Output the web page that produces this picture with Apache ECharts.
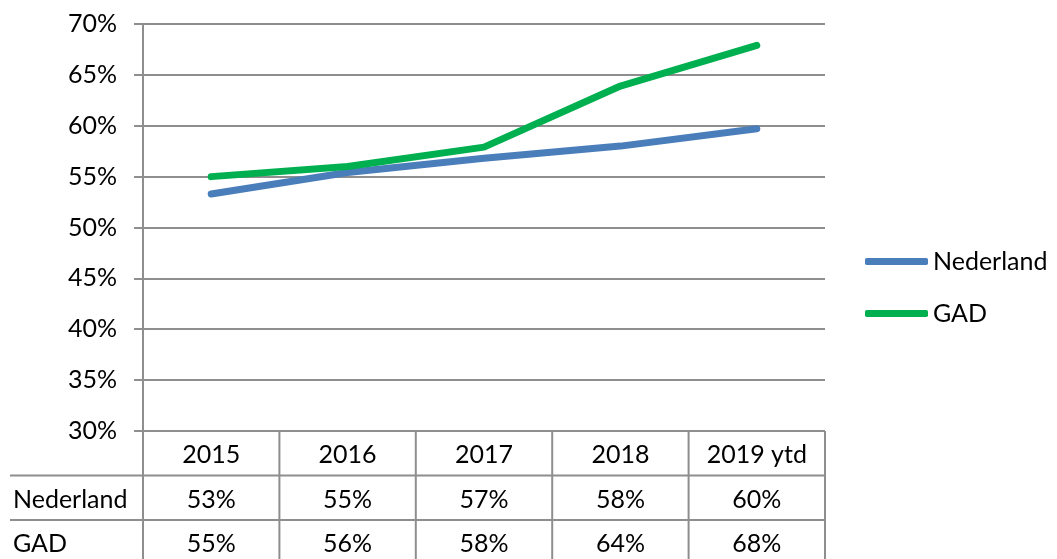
<!DOCTYPE html>
<html>
<head>
<meta charset="utf-8">
<script src="https://cdn.jsdelivr.net/npm/echarts@6/dist/echarts.min.js"></script>
<style>html,body{margin:0;padding:0;background:#fff}#c{width:1057px;height:559px}</style>
</head>
<body>
<div id="c"></div>
<script>
const categories = ['2015', '2016', '2017', '2018', '2019 ytd'];
const nederland = [0.533, 0.554, 0.568, 0.580, 0.597];
const gad = [0.550, 0.560, 0.579, 0.639, 0.679];
const seriesNames = ['Nederland', 'GAD'];
const colors = ['#4a7ebb', '#00b050'];

const FONT = 'Lato';
const FS = 25;
const GRID_COLOR = '#8e8e8e';
const pct = v => Math.round(v * 100) + '%';

const chart = echarts.init(document.getElementById('c'), null, {renderer: 'canvas'});
const option = {
  animation: false,
  backgroundColor: '#fff',
  textStyle: {fontFamily: FONT},
  grid: {left: 143, right: 232, top: 24, bottom: 128, containLabel: false},
  legend: {
    orient: 'vertical',
    left: 860,
    top: 244,
    itemWidth: 63,
    itemHeight: 7,
    itemGap: 27,
    icon: 'roundRect',
    textStyle: {fontFamily: FONT, fontSize: FS, color: '#000'},
    data: seriesNames
  },
  xAxis: {
    type: 'category',
    data: categories,
    boundaryGap: true,
    axisLine: {show: false},
    axisTick: {show: false},
    axisLabel: {show: false},
    splitLine: {show: false}
  },
  yAxis: {
    type: 'value',
    min: 0.30,
    max: 0.70,
    interval: 0.05,
    axisLine: {show: true, lineStyle: {color: GRID_COLOR, width: 2}},
    axisTick: {show: true, length: 9, lineStyle: {color: GRID_COLOR, width: 2}},
    axisLabel: {
      margin: 26,
      fontFamily: FONT, fontSize: FS, color: '#000',
      padding: [6, 0, 0, 0],
      formatter: v => Math.round(v * 100) + '%'
    },
    splitLine: {show: true, lineStyle: {color: GRID_COLOR, width: 2}}
  },
  series: [
    {name: seriesNames[0], type: 'line', data: nederland, symbol: 'none',
     lineStyle: {color: colors[0], width: 7, cap: 'round', join: 'round'}, itemStyle: {color: colors[0]}},
    {name: seriesNames[1], type: 'line', data: gad, symbol: 'none',
     lineStyle: {color: colors[1], width: 7, cap: 'round', join: 'round'}, itemStyle: {color: colors[1]}}
  ]
};
chart.setOption(option);

// Build data table below the plot from the arrays, positioned via axis scales
const c0 = chart.convertToPixel({xAxisIndex: 0}, 0);
const c1 = chart.convertToPixel({xAxisIndex: 0}, 1);
const bw = c1 - c0;
const yTop = chart.convertToPixel({yAxisIndex: 0}, 0.30);
const rowH = 44.5;
const bottom = 559;
const leftEdge = 10;
const xStart = c0 - bw / 2;
const xEnd = chart.convertToPixel({xAxisIndex: 0}, categories.length - 1) + bw / 2;
const els = [];
const lineStyle = {stroke: GRID_COLOR, lineWidth: 2};
for (let i = 0; i <= categories.length; i++) {
  const x = xStart + i * bw;
  els.push({type: 'line', shape: {x1: x, y1: yTop, x2: x, y2: bottom}, style: lineStyle, silent: true});
}
for (let r = 1; r <= 2; r++) {
  const y = yTop + r * rowH;
  els.push({type: 'line', shape: {x1: leftEdge, y1: y, x2: xEnd, y2: y}, style: lineStyle, silent: true});
}
const rows = [
  {label: '', values: categories},
  {label: seriesNames[0], values: nederland.map(pct)},
  {label: seriesNames[1], values: gad.map(pct)}
];
rows.forEach((row, r) => {
  const yc = yTop + r * rowH + rowH / 2 + 2;
  if (row.label) {
    els.push({type: 'text', x: 13, y: yc, silent: true,
      style: {text: row.label, fontFamily: FONT, fontSize: FS, fill: '#000', textAlign: 'left', textVerticalAlign: 'middle'}});
  }
  row.values.forEach((v, i) => {
    const xc = chart.convertToPixel({xAxisIndex: 0}, i);
    els.push({type: 'text', x: xc, y: yc, silent: true,
      style: {text: v, fontFamily: FONT, fontSize: FS, fill: '#000', textAlign: 'center', textVerticalAlign: 'middle'}});
  });
});
chart.setOption({graphic: {elements: els}});
</script>
</body>
</html>
